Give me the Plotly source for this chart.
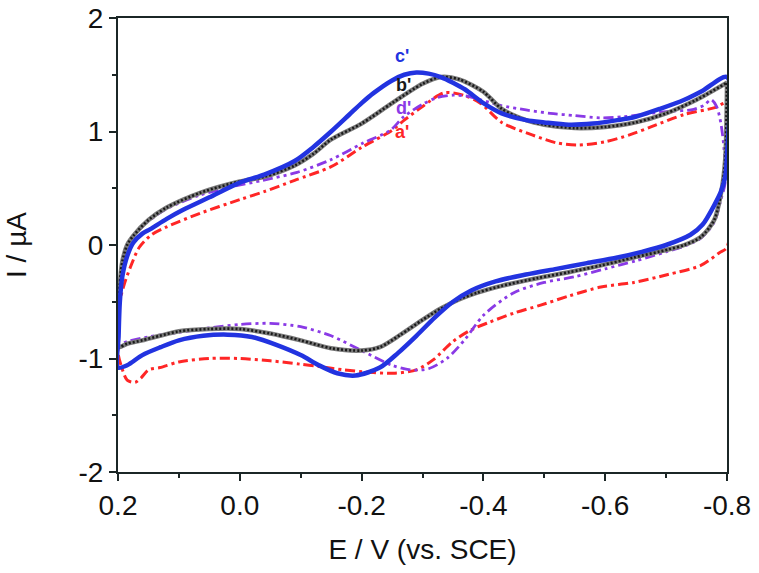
import plotly.graph_objects as go

# ---------------- data ----------------
# c' (blue, solid)
c_E_fwd = [0.2, 0.199, 0.197, 0.193, 0.185, 0.175, 0.16, 0.147, 0.12, 0.093, 0.05, 0.0, -0.04, -0.09, -0.12, -0.15, -0.18, -0.2, -0.22, -0.25, -0.27, -0.29, -0.31, -0.33, -0.35, -0.37, -0.40, -0.43, -0.47, -0.50, -0.54, -0.58, -0.62, -0.65, -0.69, -0.73, -0.76, -0.8]
c_I_fwd = [-1.08, -0.8, -0.5, -0.28, -0.1, 0.02, 0.1, 0.14, 0.23, 0.31, 0.42, 0.55, 0.62, 0.74, 0.86, 1.00, 1.15, 1.25, 1.34, 1.45, 1.50, 1.52, 1.51, 1.48, 1.43, 1.37, 1.25, 1.16, 1.10, 1.08, 1.06, 1.07, 1.10, 1.13, 1.20, 1.28, 1.36, 1.48]
c_E_rev = [-0.8, -0.797, -0.79, -0.78, -0.76, -0.74, -0.70, -0.66, -0.62, -0.57, -0.52, -0.47, -0.42, -0.38, -0.35, -0.32, -0.29, -0.26, -0.23, -0.19, -0.16, -0.13, -0.10, -0.06, -0.02, 0.02, 0.06, 0.10, 0.13, 0.16, 0.185, 0.2]
c_I_rev = [0.8, 0.6, 0.47, 0.36, 0.18, 0.09, 0.0, -0.06, -0.11, -0.16, -0.21, -0.26, -0.32, -0.40, -0.50, -0.64, -0.80, -0.95, -1.08, -1.15, -1.13, -1.06, -0.97, -0.88, -0.81, -0.79, -0.80, -0.84, -0.90, -0.97, -1.06, -1.08]

# b' (black, textured)
b_E_fwd = [0.2, 0.199, 0.197, 0.193, 0.185, 0.175, 0.15, 0.12, 0.065, 0.0, -0.04, -0.09, -0.12, -0.15, -0.2, -0.25, -0.3, -0.33, -0.36, -0.40, -0.43, -0.47, -0.5, -0.55, -0.6, -0.65, -0.7, -0.75, -0.8]
b_I_fwd = [-0.9, -0.6, -0.35, -0.15, 0.0, 0.08, 0.22, 0.33, 0.46, 0.56, 0.60, 0.70, 0.80, 0.93, 1.07, 1.25, 1.42, 1.48, 1.46, 1.35, 1.20, 1.10, 1.06, 1.03, 1.04, 1.08, 1.16, 1.28, 1.43]
b_E_rev = [-0.8, -0.797, -0.79, -0.779, -0.757, -0.73, -0.703, -0.647, -0.593, -0.54, -0.49, -0.43, -0.39, -0.36, -0.33, -0.30, -0.264, -0.23, -0.2, -0.15, -0.1, -0.05, 0.0, 0.05, 0.1, 0.131, 0.16, 0.185, 0.2]
b_I_rev = [1.43, 0.75, 0.45, 0.22, 0.07, 0.0, -0.04, -0.11, -0.18, -0.24, -0.29, -0.36, -0.42, -0.48, -0.56, -0.66, -0.79, -0.90, -0.93, -0.91, -0.84, -0.78, -0.74, -0.74, -0.76, -0.80, -0.84, -0.87, -0.9]

# d' (purple, dash-dot-dot)
d_E_fwd = [0.2, 0.199, 0.197, 0.193, 0.185, 0.175, 0.15, 0.12, 0.065, 0.016, -0.038, -0.094, -0.149, -0.203, -0.247, -0.269, -0.30, -0.325, -0.35, -0.375, -0.395, -0.428, -0.47, -0.51, -0.55, -0.593, -0.63, -0.675, -0.71, -0.741, -0.762, -0.774, -0.783, -0.79]
d_I_fwd = [-0.88, -0.6, -0.35, -0.15, 0.0, 0.08, 0.21, 0.32, 0.44, 0.51, 0.57, 0.64, 0.75, 0.90, 1.01, 1.13, 1.24, 1.30, 1.32, 1.31, 1.28, 1.23, 1.19, 1.16, 1.14, 1.12, 1.13, 1.16, 1.18, 1.19, 1.23, 1.28, 1.22, 1.07]
d_E_rev = [-0.795, -0.797, -0.79, -0.779, -0.757, -0.73, -0.70, -0.65, -0.60, -0.55, -0.50, -0.45, -0.40, -0.37, -0.34, -0.31, -0.28, -0.25, -0.2, -0.15, -0.1, -0.05, 0.0, 0.05, 0.1, 0.15, 0.185, 0.2]
d_I_rev = [0.85, 0.55, 0.40, 0.2, 0.06, -0.01, -0.06, -0.14, -0.21, -0.28, -0.33, -0.42, -0.62, -0.83, -1.00, -1.09, -1.10, -1.06, -0.93, -0.80, -0.72, -0.69, -0.70, -0.73, -0.77, -0.81, -0.85, -0.88]

# a' (red, dash-dot)
a_E_fwd = [0.2, 0.199, 0.197, 0.19, 0.18, 0.165, 0.145, 0.12, 0.065, 0.0, -0.04, -0.09, -0.15, -0.2, -0.25, -0.27, -0.3, -0.335, -0.367, -0.395, -0.43, -0.48, -0.52, -0.555, -0.6, -0.64, -0.675, -0.73, -0.78, -0.8]
a_I_fwd = [-0.95, -0.75, -0.5, -0.35, -0.2, -0.02, 0.09, 0.16, 0.28, 0.40, 0.47, 0.57, 0.69, 0.86, 1.01, 1.10, 1.22, 1.34, 1.32, 1.25, 1.08, 0.97, 0.90, 0.88, 0.91, 0.97, 1.04, 1.15, 1.21, 1.25]
a_E_rev = [-0.8, -0.787, -0.757, -0.703, -0.647, -0.593, -0.54, -0.494, -0.45, -0.41, -0.379, -0.35, -0.318, -0.29, -0.252, -0.21, -0.17, -0.13, -0.099, -0.05, 0.0, 0.05, 0.1, 0.131, 0.15, 0.162, 0.172, 0.185, 0.195, 0.2]
a_I_rev = [-0.02, -0.07, -0.18, -0.26, -0.33, -0.37, -0.45, -0.53, -0.60, -0.68, -0.75, -0.85, -1.01, -1.10, -1.13, -1.12, -1.10, -1.07, -1.05, -1.02, -1.0, -1.0, -1.03, -1.08, -1.10, -1.17, -1.21, -1.19, -1.06, -0.95]

curve_labels = ["c'", "b'", "d'", "a'"]
label_E = [-0.267, -0.269, -0.269, -0.267]
label_I = [1.665, 1.41, 1.21, 1.0]

x_tickvals = [0.2, 0.0, -0.2, -0.4, -0.6, -0.8]
x_ticktext = ["0.2", "0.0", "-0.2", "-0.4", "-0.6", "-0.8"]
y_tickvals = [-2, -1, 0, 1, 2]
y_ticktext = ["-2", "-1", "0", "1", "2"]

# ---------------- styles ----------------
BLUE = "#2233e0"
RED = "#ff2626"
PURPLE = "#8a3ae6"
BLACK = "#1a1a1a"
GREY = "#7a7a7a"
AXIS = "#1b2626"
FONT = "Liberation Sans, Arial, sans-serif"
SMOOTH = 0.8

fig = go.Figure()

fig.add_trace(go.Scatter(x=a_E_fwd + a_E_rev, y=a_I_fwd + a_I_rev, mode="lines",
                         line=dict(color=RED, width=3, dash="10px,4px,3px,4px", shape="spline", smoothing=SMOOTH),
                         showlegend=False))
fig.add_trace(go.Scatter(x=d_E_fwd + d_E_rev, y=d_I_fwd + d_I_rev, mode="lines",
                         line=dict(color=PURPLE, width=2.8, dash="10px,4px,3px,4px,3px,4px", shape="spline", smoothing=SMOOTH),
                         showlegend=False))
fig.add_trace(go.Scatter(x=b_E_fwd + b_E_rev, y=b_I_fwd + b_I_rev, mode="lines",
                         line=dict(color=GREY, width=4.5, shape="spline", smoothing=SMOOTH), showlegend=False))
fig.add_trace(go.Scatter(x=b_E_fwd + b_E_rev, y=b_I_fwd + b_I_rev, mode="lines",
                         line=dict(color=BLACK, width=2.6, dash="2px,2px", shape="spline", smoothing=SMOOTH),
                         showlegend=False))
fig.add_trace(go.Scatter(x=c_E_fwd + c_E_rev, y=c_I_fwd + c_I_rev, mode="lines",
                         line=dict(color=BLUE, width=4.5, shape="spline", smoothing=SMOOTH), showlegend=False))

label_colors = [BLUE, BLACK, PURPLE, RED]
for t, xe, yi, col in zip(curve_labels, label_E, label_I, label_colors):
    fig.add_annotation(x=xe, y=yi, text="<b>%s</b>" % t, showarrow=False,
                       font=dict(family=FONT, size=18, color=col), xanchor="center", yanchor="middle")

axis_common = dict(showline=True, linecolor=AXIS, linewidth=2, mirror=True,
                   ticks="outside", ticklen=7, tickwidth=2, tickcolor=AXIS,
                   showgrid=False, zeroline=False, automargin=False,
                   tickfont=dict(family=FONT, size=28, color="#111"))

fig.update_layout(
    width=759, height=573,
    margin=dict(l=118, r=32, t=18, b=101),
    paper_bgcolor="white", plot_bgcolor="white",
    hovermode=False,
    xaxis=dict(range=[0.2, -0.8], tickvals=x_tickvals, ticktext=x_ticktext,
               minor=dict(dtick=0.1, ticks="outside", ticklen=4, tickwidth=2, tickcolor=AXIS),
               title=dict(text="E / V (vs. SCE)", font=dict(family=FONT, size=28, color="#111"), standoff=20),
               **axis_common),
    yaxis=dict(range=[-2, 2], tickvals=y_tickvals, ticktext=y_ticktext,
               minor=dict(dtick=0.5, ticks="outside", ticklen=4, tickwidth=2, tickcolor=AXIS),
               title=dict(text="I / µA", font=dict(family=FONT, size=28, color="#111"), standoff=44),
               **axis_common),
)

fig.write_html("out.html", config={"displayModeBar": False},
               post_script="document.body.style.margin='0';document.body.style.overflow='hidden';")
